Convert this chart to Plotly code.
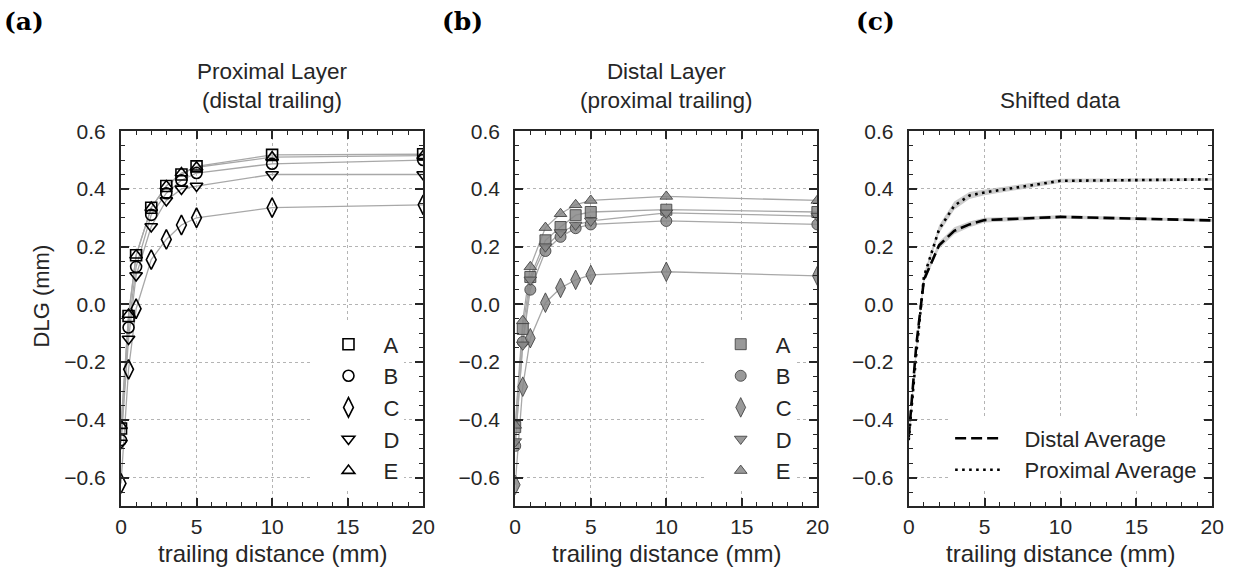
import plotly.graph_objects as go

# trailing distances (mm)
distance = [0, 0.5, 1, 2, 3, 4, 5, 10, 20]
leaf_names = ["A", "B", "C", "D", "E"]

# Proximal layer, distal trailing: DLG (mm)
prox_A = [-0.43, -0.04, 0.17, 0.335, 0.41, 0.45, 0.478, 0.518, 0.52]
prox_B = [-0.47, -0.08, 0.13, 0.31, 0.385, 0.43, 0.455, 0.487, 0.50]
prox_C = [-0.62, -0.225, -0.015, 0.155, 0.225, 0.275, 0.30, 0.335, 0.345]
prox_D = [-0.48, -0.12, 0.10, 0.27, 0.36, 0.40, 0.41, 0.45, 0.45]
prox_E = [-0.42, -0.035, 0.17, 0.335, 0.41, 0.455, 0.475, 0.51, 0.515]

# Distal layer, proximal trailing: DLG (mm)
dist_A = [-0.425, -0.085, 0.095, 0.222, 0.268, 0.309, 0.32, 0.328, 0.32]
dist_B = [-0.49, -0.13, 0.051, 0.185, 0.234, 0.264, 0.277, 0.289, 0.277]
dist_C = [-0.625, -0.285, -0.117, 0.006, 0.057, 0.085, 0.102, 0.113, 0.099]
dist_D = [-0.475, -0.14, 0.085, 0.20, 0.249, 0.275, 0.289, 0.317, 0.306]
dist_E = [-0.419, -0.057, 0.13, 0.266, 0.314, 0.345, 0.36, 0.374, 0.36]

# Shifted averages and their spread
distal_avg = [-0.46, -0.14, 0.085, 0.205, 0.255, 0.277, 0.292, 0.303, 0.291]
distal_sd = [0.008, 0.01, 0.01, 0.012, 0.012, 0.01, 0.008, 0.006, 0.005]
proximal_avg = [-0.47, -0.17, 0.096, 0.26, 0.342, 0.377, 0.388, 0.428, 0.433]
proximal_sd = [0.008, 0.01, 0.01, 0.014, 0.014, 0.012, 0.01, 0.007, 0.005]

x_ticks = [0, 5, 10, 15, 20]
y_ticks = [-0.6, -0.4, -0.2, 0.0, 0.2, 0.4, 0.6]
y_ticktext = ["\u22120.6", "\u22120.4", "\u22120.2", "0.0", "0.2", "0.4", "0.6"]

W, H = 1243, 577
FONT = "Liberation Sans, Arial, sans-serif"
INK = "#262626"
PAD = "\u00a0\u00a0\u00a0"

open_symbols = ["square-open", "circle-open", "diamond-tall-open", "triangle-down-open", "triangle-up-open"]
filled_symbols = ["square", "circle", "diamond-tall", "triangle-down", "triangle-up"]
sizes = [11, 11, 14, 11, 11]

fig = go.Figure()

prox_sets = [prox_A, prox_B, prox_C, prox_D, prox_E]
dist_sets = [dist_A, dist_B, dist_C, dist_D, dist_E]

# panel (a): connecting lines then open markers
for vals in prox_sets:
    fig.add_trace(go.Scatter(x=distance, y=vals, mode="lines", xaxis="x", yaxis="y",
                             line=dict(color="#a8a8a8", width=1.3), showlegend=False,
                             hoverinfo="skip"))
for name, vals, sym, sz in zip(leaf_names, prox_sets, open_symbols, sizes):
    fig.add_trace(go.Scatter(x=distance, y=vals, mode="markers", name=name, xaxis="x", yaxis="y",
                             marker=dict(symbol=sym, size=sz, color="black", line=dict(width=1.6)),
                             legend="legend"))

# panel (b): connecting lines then filled grey markers
for vals in dist_sets:
    fig.add_trace(go.Scatter(x=distance, y=vals, mode="lines", xaxis="x2", yaxis="y2",
                             line=dict(color="#a8a8a8", width=1.3), showlegend=False,
                             hoverinfo="skip"))
for name, vals, sym, sz in zip(leaf_names, dist_sets, filled_symbols, sizes):
    fig.add_trace(go.Scatter(x=distance, y=vals, mode="markers", name=name, xaxis="x2", yaxis="y2",
                             marker=dict(symbol=sym, size=sz, color="rgba(135,135,135,0.85)",
                                         line=dict(color="rgba(70,70,70,0.9)", width=1)),
                             legend="legend2"))

# panel (c): spread bands and average curves
for avg, sd in [(distal_avg, distal_sd), (proximal_avg, proximal_sd)]:
    upper = [a + s for a, s in zip(avg, sd)]
    lower = [a - s for a, s in zip(avg, sd)]
    fig.add_trace(go.Scatter(x=distance + distance[::-1], y=upper + lower[::-1], mode="lines",
                             fill="toself", fillcolor="rgba(170,170,170,0.6)",
                             line=dict(width=0), xaxis="x3", yaxis="y3",
                             showlegend=False, hoverinfo="skip"))
fig.add_trace(go.Scatter(x=distance, y=distal_avg, mode="lines", name=PAD + "Distal Average",
                         xaxis="x3", yaxis="y3", line=dict(color="black", width=2.6, dash="11px,5px"),
                         legend="legend3"))
fig.add_trace(go.Scatter(x=distance, y=proximal_avg, mode="lines", name=PAD + "Proximal Average",
                         xaxis="x3", yaxis="y3", line=dict(color="black", width=2.6, dash="2.6px,4.4px"),
                         legend="legend3"))

y_dom = [1 - 505 / H, 1 - 121.7 / H]
x_doms = [[116.7 / W, 423.3 / W], [516.7 / W, 823.3 / W], [916 / W, 1224 / W]]


def xax(dom, anchor):
    return dict(domain=dom, anchor=anchor, range=[0, 20], tickvals=x_ticks,
                showline=True, linecolor=INK, linewidth=2, mirror="allticks",
                ticks="inside", ticklen=8, tickwidth=1.6, tickcolor=INK,
                minor=dict(dtick=1, tick0=0, ticks="inside", ticklen=4, tickwidth=1.2,
                           tickcolor=INK, showgrid=False),
                showgrid=True, gridcolor="#b4b4b4", griddash="dot", gridwidth=0.9,
                zeroline=False, tickfont=dict(size=21, color=INK, family=FONT))


def yax(anchor):
    return dict(domain=y_dom, anchor=anchor, range=[-0.7, 0.6], tickvals=y_ticks,
                ticktext=y_ticktext, ticklabelstandoff=9,
                showline=True, linecolor=INK, linewidth=2, mirror="allticks",
                ticks="inside", ticklen=8, tickwidth=1.6, tickcolor=INK,
                minor=dict(dtick=0.05, tick0=0, ticks="inside", ticklen=4, tickwidth=1.2,
                           tickcolor=INK, showgrid=False),
                showgrid=True, gridcolor="#b4b4b4", griddash="dot", gridwidth=0.9,
                zeroline=False, tickfont=dict(size=21, color=INK, family=FONT))


legend_common = dict(bgcolor="white", borderwidth=0, font=dict(size=22, color=INK, family=FONT),
                     tracegroupgap=0, xanchor="left", yanchor="top")

fig.update_layout(
    width=W, height=H, margin=dict(l=0, r=0, t=0, b=0),
    paper_bgcolor="white", plot_bgcolor="white",
    font=dict(family=FONT, color=INK),
    xaxis=xax(x_doms[0], "y"), yaxis=yax("x"),
    xaxis2=xax(x_doms[1], "y2"), yaxis2=yax("x2"),
    xaxis3=xax(x_doms[2], "y3"), yaxis3=yax("x3"),
    legend=dict(x=312 / W, y=1 - 318 / H, itemwidth=60, **legend_common),
    legend2=dict(x=710 / W, y=1 - 318 / H, itemwidth=60, **legend_common),
    legend3=dict(x=958 / W, y=1 - 414 / H, itemwidth=46, **legend_common),
)

# panel titles (two-line titles wrap inside a single text block)
titles = ["Proximal Layer<br>(distal trailing)", "Distal Layer<br>(proximal trailing)", "Shifted data"]
for dom, ttl in zip(x_doms, titles):
    cx = (dom[0] + dom[1]) / 2
    fig.add_annotation(x=cx, y=1 - 105 / H, xref="paper", yref="paper", text=ttl, showarrow=False,
                       xanchor="center", yanchor="bottom",
                       font=dict(size=22.5, color=INK, family=FONT))
    fig.add_annotation(x=cx, y=1 - 553 / H, xref="paper", yref="paper", text="trailing distance (mm)",
                       showarrow=False, xanchor="center", yanchor="middle",
                       font=dict(size=24, color=INK, family=FONT))

fig.add_annotation(x=37 / W, y=1 - 290 / H, xref="paper", yref="paper", text="DLG (mm)", textangle=-90,
                   showarrow=False, xanchor="center", yanchor="middle",
                   font=dict(size=22, color=INK, family=FONT))

for lab, px in [("(a)", 18), ("(b)", 463), ("(c)", 882)]:
    fig.add_annotation(x=px / W, y=1 - 10 / H, xref="paper", yref="paper", text="<b>" + lab + "</b>",
                       showarrow=False, xanchor="center", yanchor="middle",
                       font=dict(size=25, color="black", family="DejaVu Serif, serif"))

fig.write_html("out.html")
